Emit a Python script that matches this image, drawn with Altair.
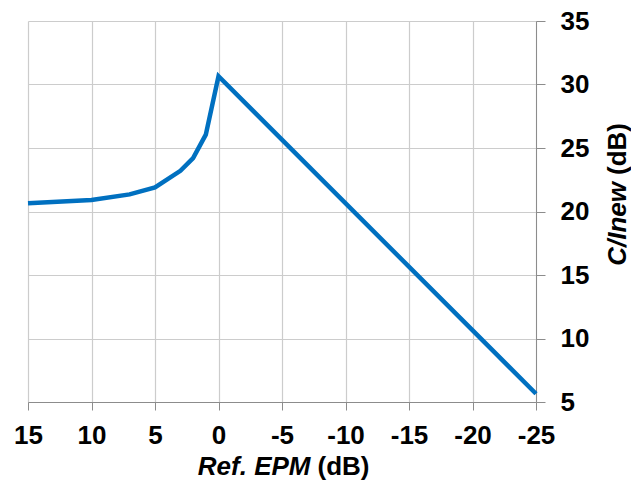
import altair as alt
import pandas as pd

ref_epm = [15, 10, 7, 5, 3, 2, 1, 0, -25]
c_inew = [20.65, 20.9, 21.35, 21.9, 23.2, 24.2, 26.05, 30.65, 5.65]
x_ticks = [15, 10, 5, 0, -5, -10, -15, -20, -25]
y_ticks = [5, 10, 15, 20, 25, 30, 35]

df = pd.DataFrame({"x": ref_epm, "y": c_inew})

FONT = "Liberation Sans"
FS = 26

line = alt.Chart(df).mark_line(color="#0070C0", strokeWidth=4.5).encode(
    x=alt.X("x:Q",
            scale=alt.Scale(domain=[15, -25], nice=False, zero=False),
            axis=alt.Axis(values=x_ticks, title=None, orient="bottom",
                          labelExpr="'' + datum.value",
                          labelFont=FONT, labelFontSize=FS, labelFontWeight="bold",
                          labelColor="black", tickSize=8, labelPadding=12,
                          labelFlush=False, labelOverlap=False,
                          domainColor="#8c8c8c", tickColor="#8c8c8c",
                          gridColor="#cccccc", gridWidth=1.2)),
    y=alt.Y("y:Q",
            scale=alt.Scale(domain=[5, 35], nice=False, zero=False),
            axis=alt.Axis(values=y_ticks, title=None, orient="right",
                          labelExpr="'' + datum.value",
                          labelFont=FONT, labelFontSize=FS, labelFontWeight="bold",
                          labelColor="black", tickSize=9, labelPadding=15,
                          labelFlush=False, labelOverlap=False,
                          domainColor="#8c8c8c", tickColor="#8c8c8c",
                          gridColor="#cccccc", gridWidth=1.2)),
)

def txt(s, x, y, align, style, angle=0):
    d = pd.DataFrame({"t": [s]})
    kw = dict(font=FONT, fontSize=FS, fontWeight="bold", fontStyle=style,
              align=align, baseline="alphabetic", color="black")
    if angle:
        kw["angle"] = angle
    return alt.Chart(d).mark_text(**kw).encode(
        x=alt.value(x), y=alt.value(y), text="t:N")

xt1 = txt("Ref. EPM", 282.5, 454, "right", "italic")
xt2 = txt("(dB)", 289.5, 454, "left", "normal")
yt1 = txt("C/Inew", 598, 161, "right", "italic", angle=270)
yt2 = txt("(dB)", 598, 154, "left", "normal", angle=270)

chart = alt.layer(line, xt1, xt2, yt1, yt2).properties(
    width=508, height=381,
    autosize=alt.AutoSizeParams(type="none"),
    padding={"left": 20, "top": 13, "right": 95, "bottom": 78},
).configure_view(strokeWidth=0)

chart.save("out.html", embed_options={"renderer": "svg", "actions": False})
